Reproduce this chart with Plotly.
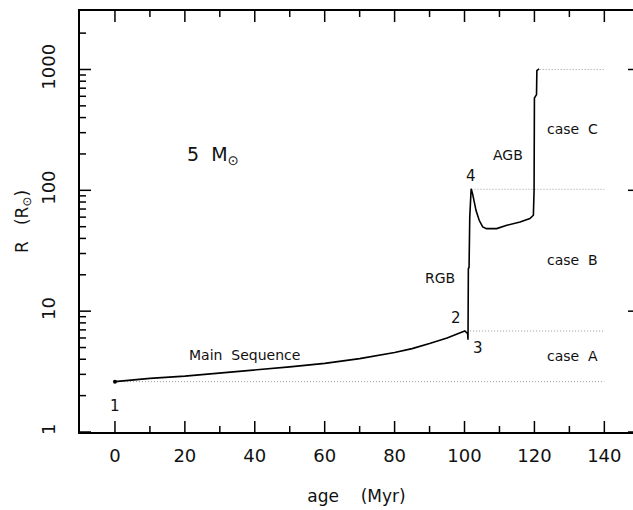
import math
import plotly.graph_objects as go

# ---- data ----
age = [0, 5, 10, 20, 30, 40, 50, 60, 70, 80, 85, 90, 95, 99.5, 100.1, 100.9, 101.0,
       101.1, 101.3, 101.5, 101.9, 102.3, 102.8, 103.3, 104.2, 105.2, 106.3, 109.2,
       112.1, 115.9, 118.7, 119.7, 119.9, 120.0, 120.6, 120.7, 121.3]
radius = [2.61, 2.70, 2.78, 2.90, 3.07, 3.27, 3.46, 3.70, 4.05, 4.55, 4.90, 5.40, 6.00,
          6.75, 6.85, 6.5, 5.8, 22.5, 23.0, 60, 103, 94, 80, 68, 56.5, 49.8, 48.2, 48.2,
          51.4, 54.7, 58.4, 62.2, 100, 580, 620, 980, 1010]

# indices of numbered points on the track
point_labels = ["1", "2", "3", "4"]
point_index = [0, 14, 16, 20]

# case boundary radii (dotted lines) and where they start
case_R = [2.61, 6.85, 102, 1000]
case_start = [0, 101.6, 102.0, 121.5]
case_end = 140
case_names = ["case\u00a0\u00a0A", "case\u00a0\u00a0B", "case\u00a0\u00a0C"]

x_ticks = [0, 20, 40, 60, 80, 100, 120, 140]
x_minor = [10, 30, 50, 70, 90, 110, 130]
y_ticks = [1, 10, 100, 1000]
y_minor = [m * d for d in [1, 10, 100, 1000] for m in range(2, 10) if m * d < 3000]

FONT = "DejaVu Sans"
INK = "#111111"

W, H = 633, 510
ML, MR, MT, MB = 80, 0, 11, 78
PW, PH = W - ML - MR, H - MT - MB

fig = go.Figure()

for r0, s0 in zip(case_R, case_start):
    fig.add_trace(go.Scatter(x=[s0, case_end], y=[r0, r0], mode="lines",
                             line=dict(color="#9a9a9a", width=1, dash="1px,2px"),
                             hoverinfo="skip", showlegend=False))

fig.add_trace(go.Scatter(x=age, y=radius, mode="lines",
                         line=dict(color="black", width=1.6),
                         showlegend=False))
fig.add_trace(go.Scatter(x=[age[0]], y=[radius[0]], mode="markers",
                         marker=dict(color="black", size=4), showlegend=False))

annotations = []
shifts = [(0, -24), (-9, 13), (10, -8), (0, 13)]
for lab, idx, (dx, dy) in zip(point_labels, point_index, shifts):
    annotations.append(dict(x=age[idx], y=math.log10(radius[idx]), text=lab,
                            showarrow=False, xshift=dx, yshift=dy,
                            font=dict(family=FONT, size=15, color=INK)))

case_x = 131
for i, name in enumerate(case_names):
    ylog = (math.log10(case_R[i]) + math.log10(case_R[i + 1])) / 2
    annotations.append(dict(x=case_x, y=ylog, text=name, showarrow=False,
                            font=dict(family=FONT, size=14, color=INK)))

annotations += [
    dict(x=37.0, y=0.64, text="Main\u00a0\u00a0Sequence", showarrow=False,
         font=dict(family=FONT, size=14, color=INK)),
    dict(x=93.0, y=1.276, text="RGB", showarrow=False,
         font=dict(family=FONT, size=14, color=INK)),
    dict(x=112.4, y=2.291, text="AGB", showarrow=False,
         font=dict(family=FONT, size=14, color=INK)),
    dict(x=20.0, y=2.29, text="5\u00a0\u00a0M<sub>\u2299</sub>", showarrow=False,
         xanchor="left", font=dict(family=FONT, size=19, color=INK)),
]

# inward tick marks drawn as shapes (axis decoration)
TW = 1.5
shapes = []
def xtick(v, L):
    for y0, y1 in [(0, L / PH), (1, 1 - L / PH)]:
        shapes.append(dict(type="line", xref="x", yref="paper", x0=v, x1=v, y0=y0, y1=y1,
                           line=dict(color="black", width=TW)))
for v in x_ticks:
    xtick(v, 11)
for v in x_minor:
    xtick(v, 6)
for v in y_ticks:
    shapes.append(dict(type="line", xref="paper", yref="y", x0=0, x1=11 / PW, y0=v, y1=v,
                       line=dict(color="black", width=TW)))
    shapes.append(dict(type="line", xref="paper", yref="y", x0=1 - 5 / PW, x1=1, y0=v, y1=v,
                       line=dict(color="black", width=TW)))
for v in y_minor:
    shapes.append(dict(type="line", xref="paper", yref="y", x0=0, x1=6 / PW, y0=v, y1=v,
                       line=dict(color="black", width=TW)))

fig.update_layout(
    width=W, height=H,
    margin=dict(l=ML, r=MR, t=MT, b=MB),
    paper_bgcolor="white", plot_bgcolor="white",
    font=dict(family=FONT, color=INK),
    annotations=annotations,
    shapes=shapes,
    xaxis=dict(range=[-10, 148.2], tickmode="array", tickvals=x_ticks,
               ticks="", showline=True, linewidth=2,
               linecolor="black", mirror=True, showgrid=False, zeroline=False,
               tickfont=dict(family=FONT, size=18, color=INK),
               ticklabelstandoff=6,
               title=dict(text="age\u00a0\u00a0\u00a0\u00a0(Myr)", standoff=26,
                          font=dict(family=FONT, size=17, color=INK))),
    yaxis=dict(type="log", range=[0, 3.484], tickmode="array", tickvals=y_ticks,
               ticktext=["1", "10", "100", "1000"],
               ticks="", showline=True, linewidth=2, linecolor="black", mirror=False,
               showgrid=False, zeroline=False, tickangle=-90,
               ticklabelstandoff=16,
               tickfont=dict(family=FONT, size=18, color=INK),
               title=dict(text="R\u00a0\u00a0\u00a0(R<sub>\u2299</sub>)", standoff=5,
                          font=dict(family=FONT, size=17, color=INK))),
)

fig.write_html("out.html")
